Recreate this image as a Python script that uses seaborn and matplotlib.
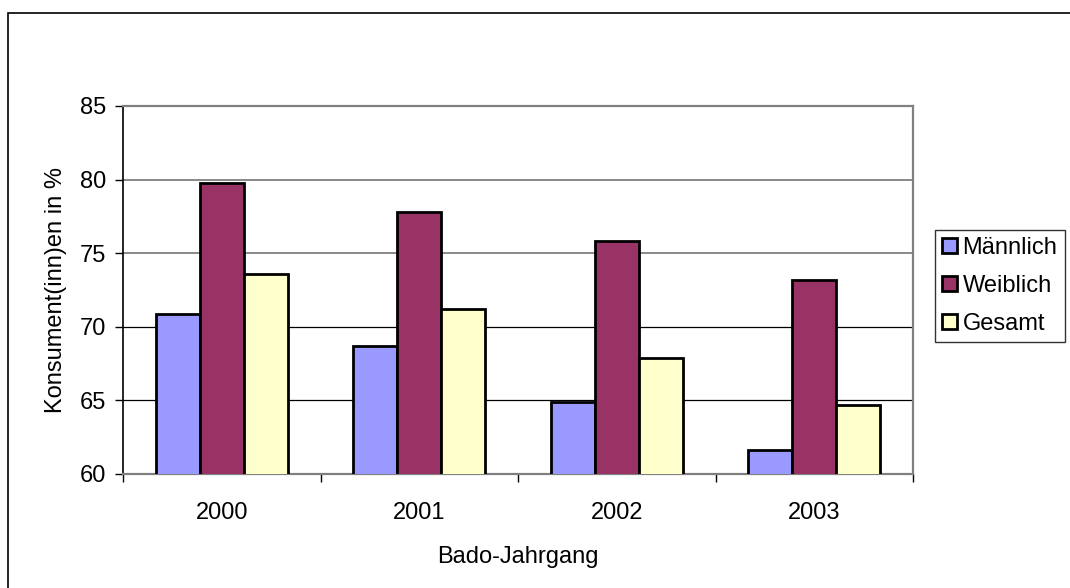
import matplotlib
matplotlib.use("Agg")
import matplotlib.pyplot as plt
import seaborn as sns
import pandas as pd
from matplotlib.patches import Rectangle

years = ["2000", "2001", "2002", "2003"]
series = ["Männlich", "Weiblich", "Gesamt"]
maennlich = [70.9, 68.7, 64.9, 61.6]
weiblich = [79.8, 77.8, 75.8, 73.2]
gesamt = [73.6, 71.2, 67.9, 64.7]
colors = ["#9999FF", "#993366", "#FFFFCC"]

df = pd.DataFrame({
    "Jahr": years * 3,
    "Serie": [series[0]] * 4 + [series[1]] * 4 + [series[2]] * 4,
    "Wert": maennlich + weiblich + gesamt,
})

sns.set_style("white")
plt.rcParams["font.family"] = ["Liberation Sans", "DejaVu Sans"]
plt.rcParams["text.color"] = "black"
plt.rcParams["axes.labelcolor"] = "black"
FS = 17

fig = plt.figure(figsize=(10.7, 5.88), dpi=100)
W, H = 1070, 588
ax = fig.add_axes([123 / W, 1 - 474 / H, (913 - 123) / W, (474 - 106) / H])

sns.barplot(data=df, x="Jahr", y="Wert", hue="Serie", palette=colors,
            width=0.67, edgecolor="black", linewidth=2.0, saturation=1,
            errorbar=None, ax=ax, zorder=3)

ax.set_ylim(60, 85)
ax.set_xlim(-0.5, 3.5)
ax.set_yticks([60, 65, 70, 75, 80, 85])
ax.set_xticks([0, 1, 2, 3])
ax.set_xticklabels(years)
ax.tick_params(axis="x", which="major", labelsize=FS, labelcolor="black",
               length=0, pad=20, bottom=True)
ax.set_xticks([-0.5, 0.5, 1.5, 2.5, 3.5], minor=True)
ax.tick_params(axis="x", which="minor", length=6, width=1, direction="out",
               color="black", bottom=True)
ax.tick_params(axis="y", which="major", labelsize=FS, labelcolor="black",
               length=6, width=1, direction="out", color="black", pad=6, left=True)

for v, c, lw in [(65, "black", 0.9), (70, "black", 0.9), (75, "#808080", 1.3),
                 (80, "#808080", 1.3)]:
    ax.axhline(v, color=c, linewidth=lw, zorder=1)

for s in ["top", "right", "bottom"]:
    ax.spines[s].set_color("#808080")
    ax.spines[s].set_linewidth(1.6)
ax.spines["left"].set_color("black")
ax.spines["left"].set_linewidth(1.2)

ax.set_xlabel("Bado-Jahrgang", fontsize=FS, labelpad=16)
ax.set_ylabel("Konsument(inn)en in %", fontsize=FS, labelpad=9)

handles, labels = ax.get_legend_handles_labels()
if ax.get_legend() is not None:
    ax.get_legend().remove()
leg = fig.legend(handles, labels, loc="upper left",
                 bbox_to_anchor=(935 / W, 1 - 230 / H), frameon=True,
                 fontsize=FS, handlelength=0.62, handleheight=0.62,
                 handletextpad=0.25, labelspacing=0.67, borderpad=0.3,
                 borderaxespad=0, fancybox=False)
leg.get_frame().set_edgecolor("black")
leg.get_frame().set_linewidth(1.0)
for t in leg.get_texts():
    t.set_color("black")

fig.patches.append(Rectangle((8 / W, -0.1), 1.2, 1 - 13 / H + 0.1,
                             transform=fig.transFigure, fill=False,
                             edgecolor="black", linewidth=1.2))

fig.savefig("out.png", dpi=100)
